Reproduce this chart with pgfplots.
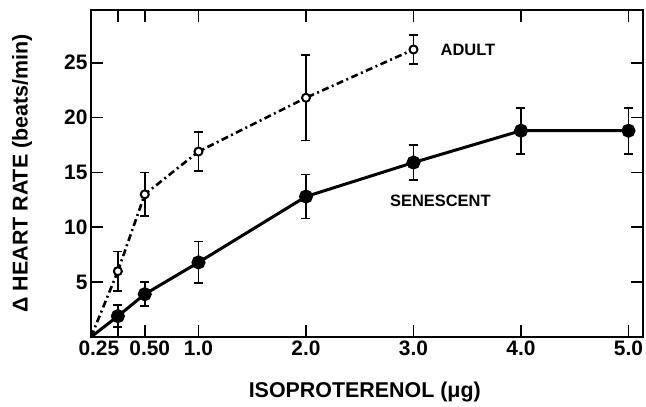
\documentclass[border=0pt]{standalone}
\usepackage{pgfplots}
\pgfplotsset{compat=1.18}
\usepackage{fontspec}
\setmainfont{Liberation Sans}

\pgfplotstableread{
x y e
0.25 6.0 1.8
0.5 13.0 2.0
1.0 16.9 1.8
2.0 21.8 3.9
3.0 26.2 1.3
}\adult

\pgfplotstableread{
x y e
0.25 1.9 1.0
0.5 3.9 1.1
1.0 6.8 1.9
2.0 12.8 2.0
3.0 15.9 1.6
4.0 18.8 2.1
5.0 18.8 2.1
}\senescent

\begin{document}
\begin{tikzpicture}
\begin{axis}[
  scale only axis, width=552bp, height=327bp,
  xmin=0, xmax=5.135, ymin=0, ymax=29.8,
  axis line style={line width=2.2bp},
  tick align=inside, major tick length=12bp,
  every tick/.style={black, line width=1.8bp},
  xtick={0.25,0.5,1,2,3,4,5},
  xticklabels={\makebox[0pt]{\hspace*{-38bp}0.25},\makebox[0pt]{\hspace*{10bp}0.50},1.0,2.0,3.0,4.0,5.0},
  ytick={5,10,15,20,25},
  /pgf/number format/assume math mode=true,
  tick label style={font=\bfseries\fontsize{21}{21}\selectfont},
  xlabel={ISOPROTERENOL (μg)}, ylabel={Δ HEART RATE (beats/min)},
  label style={font=\bfseries\fontsize{21.5}{21.5}\selectfont},
  xlabel style={at={(axis description cs:0.496,-0.168)}, anchor=center},
  ylabel style={at={(axis description cs:-0.125,0.5)}, anchor=center},
  clip=false,
]
% connecting segments from origin
\addplot[black, line width=2.6bp, dash pattern=on 7bp off 3.5bp on 2bp off 3.5bp] coordinates {(0,0) (0.25,6.0)};
\addplot[black, line width=3bp] coordinates {(0,0) (0.25,1.9)};

\addplot[black, line width=2.6bp, dash pattern=on 7bp off 3.5bp on 2bp off 3.5bp,
  mark=*, mark size=4bp, mark options={solid, fill=white, line width=2bp},
  error bars/.cd, y dir=both, y explicit,
  error bar style={solid, line width=1.8bp},
  error mark options={rotate=90, mark size=4.5bp, line width=1.8bp}]
  table[x=x, y=y, y error=e] {\adult};

\addplot[black, line width=3bp,
  mark=*, mark size=5.5bp, mark options={solid, fill=black},
  error bars/.cd, y dir=both, y explicit,
  error bar style={solid, line width=1.8bp},
  error mark options={rotate=90, mark size=4.5bp, line width=1.8bp}]
  table[x=x, y=y, y error=e] {\senescent};

\node[anchor=west, font=\bfseries\fontsize{16.5}{16.5}\selectfont] at (axis cs:3.22,26.2) {ADULT};
\node[anchor=west, font=\bfseries\fontsize{16.5}{16.5}\selectfont] at (axis cs:2.75,12.4) {SENESCENT};
\end{axis}
\pgfresetboundingbox
\path[use as bounding box] (current axis.south west) ++(-91bp,-70bp) rectangle ++(646bp,407bp);
\end{tikzpicture}
\end{document}
